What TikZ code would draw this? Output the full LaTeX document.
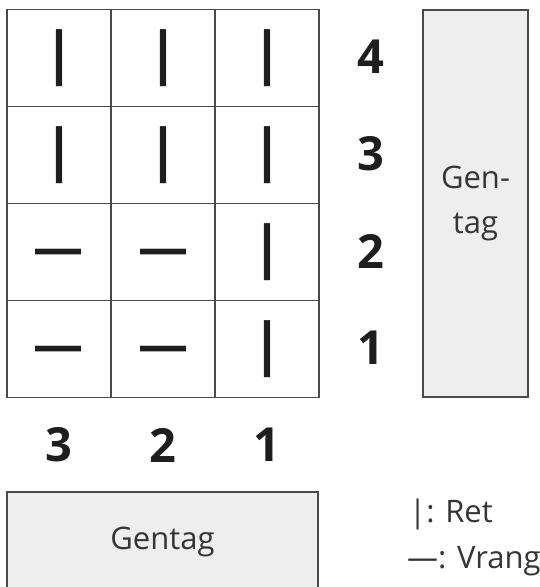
\documentclass[tikz,border=0pt]{standalone}
\usepackage{fontspec}
\setmainfont{Open Sans}
\definecolor{boxgray}{HTML}{EEEEEE}
\definecolor{linegray}{HTML}{4A4A4A}
\definecolor{textdark}{HTML}{1E1E1E}
\newcommand{\retmark}{|}
\newcommand{\vrangmark}{\vphantom{|}—}

\begin{document}
\begin{tikzpicture}[x=1pt, y=-1pt,
  cell/.style={draw=linegray, line width=1.3pt, minimum width=104pt, minimum height=97pt,
    inner sep=0pt, text=textdark, font=\fontsize{58}{58}\selectfont\bfseries},
  dashcell/.style={cell, font=\fontsize{50}{50}\selectfont\bfseries},
  num/.style={inner sep=0pt, text=textdark, font=\fontsize{47}{47}\selectfont\bfseries},
  shade/.style={draw=linegray, line width=1.3pt, fill=boxgray, align=center, inner sep=0pt,
    text=textdark!90, font=\fontsize{31}{45}\selectfont},
  legend/.style={anchor=base west, inner sep=0pt, text=textdark!90, font=\fontsize{31}{40}\selectfont}
]
\useasboundingbox (0,0) rectangle (540,587);
% answer grid, columns 3-2-1, rows 4 down to 1
\node[cell] (c34) at (59,58)  {\retmark};
\node[cell] (c24) at (163,58) {\retmark};
\node[cell] (c14) at (267,58) {\retmark};
\node[cell] (c33) at (59,155)  {\retmark};
\node[cell] (c23) at (163,155) {\retmark};
\node[cell] (c13) at (267,155) {\retmark};
\node[dashcell] (c32) at (59,252)  {\vrangmark};
\node[dashcell] (c22) at (163,252) {\vrangmark};
\node[cell] (c12) at (267,252) {\retmark};
\node[dashcell] (c31) at (59,349)  {\vrangmark};
\node[dashcell] (c21) at (163,349) {\vrangmark};
\node[cell] (c11) at (267,349) {\retmark};

\node[num] (row4) at (371,57)  {4};
\node[num] (row3) at (371,154) {3};
\node[num] (row2) at (371,251) {2};
\node[num] (row1) at (371,348) {1};

\node[num] (col3) at (59,445)  {3};
\node[num] (col2) at (163,445) {2};
\node[num] (col1) at (267,445) {1};

\node[shade, minimum width=105pt, minimum height=387pt] (sidebox) at (475.5,203.5) {Gen-\\tag};
\node[shade, minimum width=311pt, minimum height=100pt] (bottombox) at (162.5,542) {Gentag};

\node[legend] (ret) at (409,522) {|: Ret};
\node[legend] (vrang) at (407,568) {—: Vrang};
\end{tikzpicture}
\end{document}
